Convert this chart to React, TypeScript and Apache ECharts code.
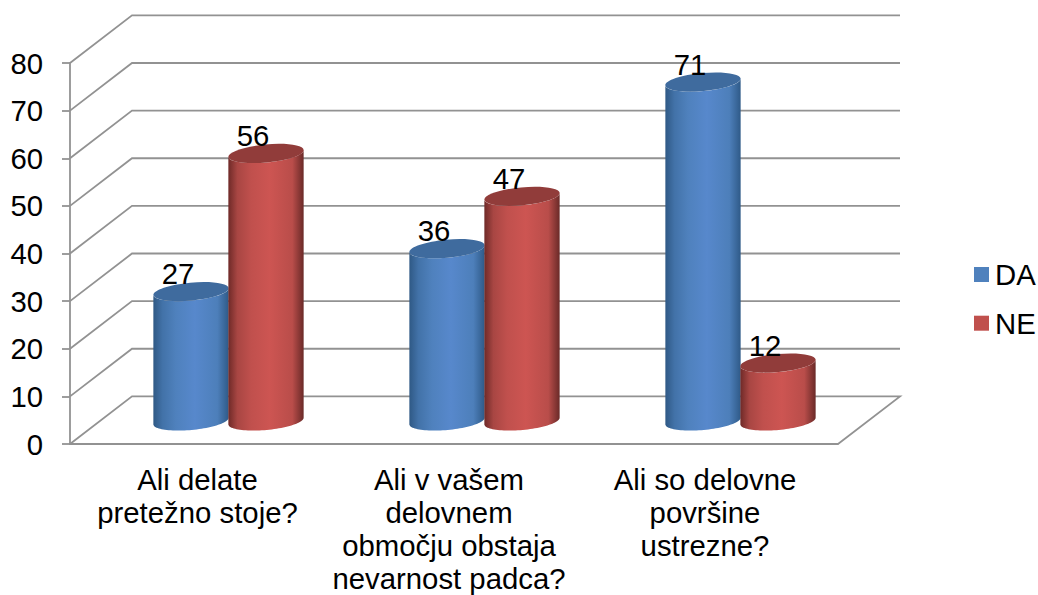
import React, { useEffect, useRef } from "react";
import * as echarts from "echarts";

const categories = ["Ali delate\npretežno stoje?", "Ali v vašem\ndelovnem\nobmočju obstaja\nnevarnost padca?", "Ali so delovne\npovršine\nustrezne?"];
const daValues = [27, 36, 71];
const neValues = [56, 47, 12];
const tickValues = [0, 10, 20, 30, 40, 50, 60, 70, 80];

const FONT = "Liberation Sans, Arial, sans-serif";
const FONT_SIZE = 29.33;
const LINE_HEIGHT = 33;
const GRID_COLOR = "#929292";
const LINE_W = 1.8;
const DEPTH_X = 62;
const GROUP_SHIFT = 30.5;
const BAR_STEP = 37.5;
const RX = 37.8;
const RY = 9;
const TILT = 0.092;

const blue = { legend: "#4f81bd", cap: "#3f6b9e", stops: ["#2f5985", "#4272a8", "#4f81bd", "#5788cc", "#4d7fba", "#2f5a88"] };
const red = { legend: "#c0504d", cap: "#913c3a", stops: ["#6f2a28", "#a84643", "#c0504d", "#cd5552", "#b94d4a", "#6a2a28"] };

function ellipsePoint(cx: number, cy: number, t: number) {
  const ex = RX * Math.cos(t);
  const ey = RY * Math.sin(t);
  return [cx + ex * Math.cos(TILT) + ey * Math.sin(TILT), cy - ex * Math.sin(TILT) + ey * Math.cos(TILT)];
}

function cylinderRender(shift: number, pal: typeof blue) {
  return (params: any, api: any) => {
    const cat = api.value(0);
    const val = api.value(1);
    const top = api.coord([cat, val]);
    const base = api.coord([cat, 0]);
    const depthY = Math.abs(api.size([0, 10])[1]);
    const cx = top[0] + GROUP_SHIFT + shift;
    const topY = top[1] - depthY / 2;
    const botY = base[1] - depthY / 2 + 0.8;
    const pts: number[][] = [];
    const n = 48;
    for (let i = 0; i <= n; i++) pts.push(ellipsePoint(cx, botY, Math.PI - (Math.PI * i) / n));
    for (let i = 0; i <= n; i++) pts.push(ellipsePoint(cx, topY, (Math.PI * i) / n));
    const offs = [0, 0.12, 0.3, 0.55, 0.85, 1];
    return {
      type: "group",
      children: [
        {
          type: "polygon",
          shape: { points: pts },
          style: {
            fill: new echarts.graphic.LinearGradient(0, 0, 1, 0, pal.stops.map((c, i) => ({ offset: offs[i], color: c }))),
          },
        },
        {
          type: "ellipse",
          x: cx,
          y: topY,
          rotation: TILT,
          shape: { cx: 0, cy: 0, rx: RX, ry: RY },
          style: { fill: pal.cap },
        },
        {
          type: "text",
          x: cx - 13,
          y: topY - 18,
          z2: 10,
          style: { text: String(val), fill: "#000", font: `${FONT_SIZE}px ${FONT}`, align: "center", verticalAlign: "middle" },
        },
      ],
    };
  };
}

function wallRender(params: any, api: any) {
  const v = api.value(0);
  const sys = params.coordSys;
  const y = api.coord([0, v])[1];
  const depthY = Math.abs(api.size([0, 10])[1]);
  const left = sys.x;
  const right = sys.x + sys.width;
  const style = { stroke: GRID_COLOR, lineWidth: LINE_W, fill: "none" };
  const pts = [[left, y], [left + DEPTH_X, y - depthY], [right + DEPTH_X, y - depthY]];
  if (v === 0) pts.push([right, y]);
  return { type: "polyline", shape: { points: pts }, style };
}

const labelStyle = { color: "#000", fontSize: FONT_SIZE, fontFamily: FONT, lineHeight: LINE_HEIGHT };

export default function App() {
  const ref = useRef<HTMLDivElement>(null);
  useEffect(() => {
    document.body.style.margin = "0";
    const chart = echarts.init(ref.current!, undefined, { renderer: "svg" });
    chart.setOption({
      animation: false,
      backgroundColor: "#fff",
      textStyle: { fontFamily: FONT },
      grid: { left: 70, right: 200, top: 63, bottom: 151, containLabel: false, outerBoundsMode: "none" },
      legend: {
        data: ["DA", "NE"],
        orient: "vertical",
        left: 974,
        top: 260,
        padding: 0,
        icon: "rect",
        itemWidth: 15,
        itemHeight: 15,
        itemGap: 19.7,
        textStyle: { fontSize: FONT_SIZE, color: "#000", fontFamily: FONT, padding: [0, 0, 0, 1] },
        selectedMode: false,
      },
      xAxis: {
        type: "category",
        data: categories,
        axisLine: { lineStyle: { color: GRID_COLOR, width: LINE_W } },
        axisTick: { alignWithLabel: false, length: 8, lineStyle: { color: GRID_COLOR, width: LINE_W } },
        axisLabel: {
          ...labelStyle,
          margin: 18.5,
          interval: 0,
          hideOverlap: false,
          formatter: (v: string, i: number) => v.split("\n").map((l) => `{c${i}|${l}}`).join("\n"),
          rich: {
            c0: { ...labelStyle, padding: [0, 1, 0, 0] },
            c1: { ...labelStyle, padding: [0, 10, 0, 0] },
            c2: { ...labelStyle, padding: [0, 10, 0, 0] },
          },
        },
      },
      yAxis: {
        type: "value",
        min: 0,
        max: 80,
        interval: 10,
        splitLine: { show: false },
        axisLine: { show: true, lineStyle: { color: GRID_COLOR, width: LINE_W } },
        axisTick: { show: true, length: 8, lineStyle: { color: GRID_COLOR, width: LINE_W } },
        axisLabel: { color: "#000", fontSize: FONT_SIZE, fontFamily: FONT, margin: 27 },
      },
      series: [
        { name: "walls", type: "custom", clip: false, z: 1, data: tickValues.map((v) => [v]), encode: { y: 0 }, renderItem: wallRender, silent: true },
        { name: "DA", type: "custom", clip: false, z: 3, itemStyle: { color: blue.legend }, data: daValues.map((v, i) => [i, v]), encode: { x: 0, y: 1 }, renderItem: cylinderRender(-BAR_STEP, blue) },
        { name: "NE", type: "custom", clip: false, z: 4, itemStyle: { color: red.legend }, data: neValues.map((v, i) => [i, v]), encode: { x: 0, y: 1 }, renderItem: cylinderRender(BAR_STEP, red) },
      ],
    });
    return () => chart.dispose();
  }, []);
  return <div ref={ref} style={{ position: "fixed", left: 0, top: 0, width: 1038, height: 595 }} />;
}
